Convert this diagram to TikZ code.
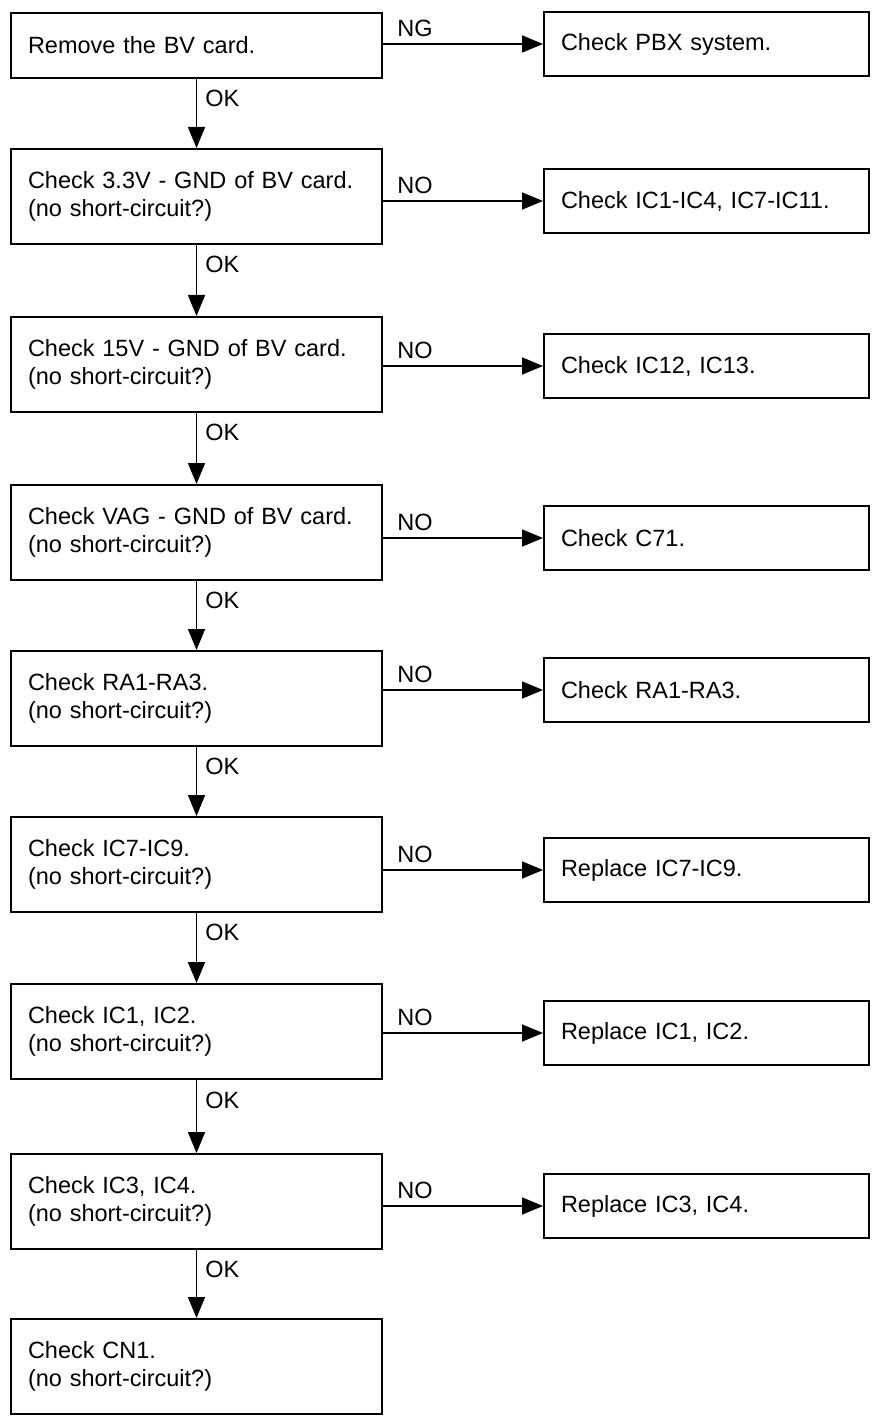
\documentclass[tikz,border=0pt]{standalone}
\usepackage{fontspec}
\setmainfont{Liberation Sans}
\usetikzlibrary{arrows.meta}
\begin{document}
\begin{tikzpicture}[x=1pt,y=-1pt,font=\fontsize{23.5}{28}\selectfont]

    % Stili globali per riquadri e frecce
    \tikzset{
        passo/.style={draw, line width=2pt, anchor=north west, align=left, inner xsep=17pt, inner ysep=0pt, text width=337pt, minimum height=95pt},
        esito/.style={draw, line width=2pt, anchor=north west, align=left, inner xsep=17pt, inner ysep=0pt, text width=291pt, minimum height=64pt},
        freccia/.style={line width=1.7pt, -{Triangle[length=21pt,width=17pt]}},
        etichetta/.style={inner sep=0pt}
    }

    % Area totale della figura
    \useasboundingbox (0,0) rectangle (874,1420);

    % Colonna sinistra: controlli
    \node[passo, minimum height=65pt] (rimuovi) at (10,12) {Remove the BV card.};
    \node[passo] (v33) at (10,148) {Check 3.3V - GND of BV card.\\(no short-circuit?)};
    \node[passo] (v15) at (10,316) {Check 15V - GND of BV card.\\(no short-circuit?)};
    \node[passo] (vag) at (10,484) {Check VAG - GND of BV card.\\(no short-circuit?)};
    \node[passo] (ra) at (10,650) {Check RA1-RA3.\\(no short-circuit?)};
    \node[passo] (ic79) at (10,816) {Check IC7-IC9.\\(no short-circuit?)};
    \node[passo] (ic12) at (10,983) {Check IC1, IC2.\\(no short-circuit?)};
    \node[passo] (ic34) at (10,1153) {Check IC3, IC4.\\(no short-circuit?)};
    \node[passo] (cn1) at (10,1318) {Check CN1.\\(no short-circuit?)};

    % Colonna destra: azioni in caso di guasto
    \node[esito] (pbx) at (543,11) {Check PBX system.};
    \node[esito] (rv33) at (543,168) {Check IC1-IC4, IC7-IC11.};
    \node[esito] (rv15) at (543,333) {Check IC12, IC13.};
    \node[esito] (rvag) at (543,505) {Check C71.};
    \node[esito] (rra) at (543,657) {Check RA1-RA3.};
    \node[esito] (ric79) at (543,837) {Replace IC7-IC9.};
    \node[esito] (ric12) at (543,1000) {Replace IC1, IC2.};
    \node[esito] (ric34) at (543,1173) {Replace IC3, IC4.};

    % Frecce verticali (OK)
    \draw[freccia] (rimuovi) -- node[etichetta, right=8pt, pos=0.28] {OK} (v33);
    \draw[freccia] (v33) -- node[etichetta, right=8pt, pos=0.28] {OK} (v15);
    \draw[freccia] (v15) -- node[etichetta, right=8pt, pos=0.28] {OK} (vag);
    \draw[freccia] (vag) -- node[etichetta, right=8pt, pos=0.28] {OK} (ra);
    \draw[freccia] (ra) -- node[etichetta, right=8pt, pos=0.28] {OK} (ic79);
    \draw[freccia] (ic79) -- node[etichetta, right=8pt, pos=0.28] {OK} (ic12);
    \draw[freccia] (ic12) -- node[etichetta, right=8pt, pos=0.28] {OK} (ic34);
    \draw[freccia] (ic34) -- node[etichetta, right=8pt, pos=0.28] {OK} (cn1);

    % Frecce orizzontali (NG / NO)
    \draw[freccia] (rimuovi.east |- pbx.west) -- node[etichetta, above=6pt, pos=0.2] {NG} (pbx.west);
    \draw[freccia] (v33.east |- rv33.west) -- node[etichetta, above=6pt, pos=0.2] {NO} (rv33.west);
    \draw[freccia] (v15.east |- rv15.west) -- node[etichetta, above=6pt, pos=0.2] {NO} (rv15.west);
    \draw[freccia] (vag.east |- rvag.west) -- node[etichetta, above=6pt, pos=0.2] {NO} (rvag.west);
    \draw[freccia] (ra.east |- rra.west) -- node[etichetta, above=6pt, pos=0.2] {NO} (rra.west);
    \draw[freccia] (ic79.east |- ric79.west) -- node[etichetta, above=6pt, pos=0.2] {NO} (ric79.west);
    \draw[freccia] (ic12.east |- ric12.west) -- node[etichetta, above=6pt, pos=0.2] {NO} (ric12.west);
    \draw[freccia] (ic34.east |- ric34.west) -- node[etichetta, above=6pt, pos=0.2] {NO} (ric34.west);

\end{tikzpicture}
\end{document}
